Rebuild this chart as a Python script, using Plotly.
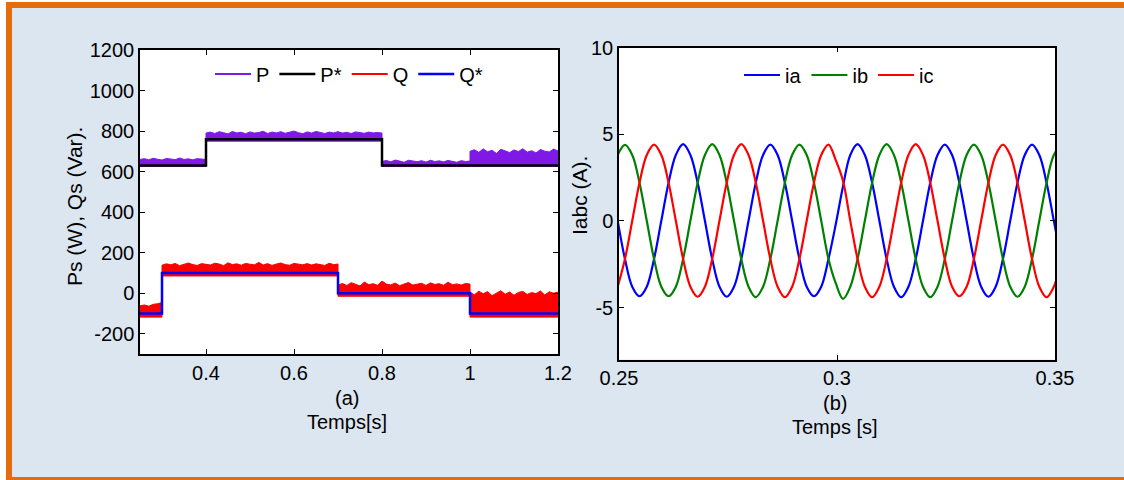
import numpy as np
import plotly.graph_objects as go

W, H = 1124, 480
FONT = "Liberation Sans, Arial, sans-serif"

# ---------------- (a) Ps / Qs ----------------
P_seg_bounds = [0.25, 0.40, 0.80, 1.00, 1.20]
P_upper_segments = [
    [660, 664, 658, 666, 661, 657, 665, 662, 659, 667, 660, 663, 658, 664, 661, 660],
    [790, 795, 788, 797, 792, 786, 798, 791, 794, 787, 796, 790, 793, 799, 788, 795, 791, 797, 789, 794,
     800, 792, 787, 796, 790, 798, 793, 788, 795, 791, 797, 790, 794, 788, 796, 792, 789, 795, 791, 793, 790],
    [650, 655, 648, 657, 652, 646, 656, 651, 649, 654, 647, 656, 650, 653, 648, 655, 651, 646, 654, 650, 652],
    [700, 708, 695, 712, 698, 705, 690, 710, 700, 694, 707, 699, 713, 696, 703, 692, 709, 701, 697, 711, 702],
]
P_low_t = [0.25, 0.40, 0.80, 1.00, 1.20]
P_low = [625, 750, 625, 626, 626]
Pref_t = [0.25, 0.40, 0.80, 1.20]
Pref = [630, 760, 630, 630]

Q_seg_bounds = [0.25, 0.30, 0.70, 1.00, 1.20]
Q_upper_segments = [
    [-62, -58, -64, -55, -52, -46],
    [138, 145, 140, 147, 136, 143, 149, 141, 137, 146, 142, 139, 148, 144, 136, 150, 141, 145, 138, 147,
     143, 140, 152, 139, 146, 137, 144, 149, 141, 138, 147, 143, 140, 146, 139, 145, 142, 137, 148, 141, 144],
    [40, 48, 38, 52, 44, 36, 55, 42, 47, 39, 60, 45, 41, 50, 37, 46, 53, 40, 44, 49,
     38, 51, 43, 47, 39, 54, 42, 46, 40, 48, 45],
    [5, -8, 10, -3, 8, -12, 2, 12, -5, 6, -10, 4, 9, -6, 3, -2, 11, -9, 7, 0, 5],
]
Q_low_t = [0.25, 0.30, 0.70, 1.00, 1.20]
Q_low = [-118, 85, -15, -118, -118]
Qref_t = [0.25, 0.30, 0.70, 1.00, 1.20]
Qref = [-100, 100, 0, -100, -100]

A_xticks = [0.4, 0.6, 0.8, 1.0, 1.2]
A_xticktext = ["0.4", "0.6", "0.8", "1", "1.2"]
A_yticks = [-200, 0, 200, 400, 600, 800, 1000, 1200]
A_yticktext = ["-200", "0", "200", "400", "600", "800", "1000", "1200"]

# ---------------- (b) Iabc ----------------
I_t_start, I_t_end = 0.2497, 0.3514
ia = [0.0, -2.2, -3.8, -4.35, -3.8, -2.2, 0.0, 2.2, 3.8, 4.42, 3.8, 2.2,
      0.0, -2.2, -3.8, -4.38, -3.8, -2.2, 0.0, 2.2, 3.8, 4.4, 3.8, 2.2,
      0.0, -2.2, -3.8, -4.35, -3.8, -2.2, -0.2, 2.0, 3.8, 4.42, 3.8, 2.2,
      0.0, -2.2, -3.8, -4.4, -3.8, -2.2, 0.0, 2.2, 3.8, 4.4, 3.8, 2.2,
      0.0, -2.2, -3.8, -4.38, -3.8, -2.2, 0.0, 2.2, 3.8, 4.4, 3.8, 2.2,
      0.0, -2.2]
ib = [3.8, 4.38, 3.8, 2.2, 0.0, -2.2, -3.8, -4.35, -3.8, -2.2, 0.0, 2.2,
      3.8, 4.42, 3.8, 2.2, 0.0, -2.2, -3.8, -4.4, -3.8, -2.2, 0.0, 2.2,
      3.8, 4.4, 3.8, 2.2, 0.0, -2.2, -3.6, -4.5, -3.8, -2.2, 0.0, 2.2,
      3.8, 4.42, 3.8, 2.2, 0.0, -2.2, -3.8, -4.4, -3.8, -2.2, 0.0, 2.2,
      3.8, 4.4, 3.8, 2.2, 0.0, -2.2, -3.8, -4.38, -3.8, -2.2, 0.0, 2.2,
      3.8, 4.4]
ic = [-3.8, -2.2, 0.0, 2.2, 3.8, 4.4, 3.8, 2.2, 0.0, -2.2, -3.8, -4.38,
      -3.8, -2.2, 0.0, 2.2, 3.8, 4.42, 3.8, 2.2, 0.0, -2.2, -3.8, -4.4,
      -3.8, -2.2, 0.0, 2.2, 3.8, 4.4, 3.5, 2.3, 0.0, -2.2, -3.8, -4.4,
      -3.8, -2.2, 0.0, 2.2, 3.8, 4.42, 3.8, 2.2, 0.0, -2.2, -3.8, -4.35,
      -3.8, -2.2, 0.0, 2.2, 3.8, 4.4, 3.8, 2.2, 0.0, -2.2, -3.8, -4.4,
      -3.8, -2.2]
B_xticks = [0.25, 0.30, 0.35]
B_xticktext = ["0.25", "0.3", "0.35"]
B_yticks = [-5, 0, 5, 10]
B_yticktext = ["-5", "0", "5", "10"]

C_P, C_PREF, C_Q, C_QREF = "#7F19E6", "#000000", "#FF0000", "#0000FF"
C_IA, C_IB, C_IC = "#0000FF", "#008000", "#FF0000"


def seg_x(bounds, segments):
    xs = []
    for i, seg in enumerate(segments):
        xs.extend(np.linspace(bounds[i], bounds[i + 1], len(seg)).tolist())
    return xs


def seg_y(segments):
    ys = []
    for seg in segments:
        ys.extend(seg)
    return ys


fig = go.Figure()

# P band
fig.add_trace(go.Scatter(x=P_low_t, y=P_low, mode="lines", line=dict(color=C_P, width=1, shape="hv"),
                         showlegend=False, hoverinfo="skip", xaxis="x", yaxis="y"))
fig.add_trace(go.Scatter(x=seg_x(P_seg_bounds, P_upper_segments), y=seg_y(P_upper_segments), mode="lines",
                         line=dict(color=C_P, width=1), fill="tonexty", fillcolor=C_P,
                         showlegend=False, xaxis="x", yaxis="y"))
fig.add_trace(go.Scatter(x=Pref_t, y=Pref, mode="lines", line=dict(color=C_PREF, width=2.5, shape="hv"),
                         name="P*", legendrank=2, legend="legend", xaxis="x", yaxis="y"))
# Q band
fig.add_trace(go.Scatter(x=Q_low_t, y=Q_low, mode="lines", line=dict(color=C_Q, width=1, shape="hv"),
                         showlegend=False, hoverinfo="skip", xaxis="x", yaxis="y"))
fig.add_trace(go.Scatter(x=seg_x(Q_seg_bounds, Q_upper_segments), y=seg_y(Q_upper_segments), mode="lines",
                         line=dict(color=C_Q, width=1), fill="tonexty", fillcolor=C_Q,
                         showlegend=False, xaxis="x", yaxis="y"))
fig.add_trace(go.Scatter(x=Qref_t, y=Qref, mode="lines", line=dict(color=C_QREF, width=2.5, shape="hv"),
                         name="Q*", legendrank=4, legend="legend", xaxis="x", yaxis="y"))
# legend entries for the noisy signals
fig.add_trace(go.Scatter(x=[None], y=[None], mode="lines", line=dict(color=C_P, width=2),
                         name="P", legendrank=1, legend="legend", xaxis="x", yaxis="y"))
fig.add_trace(go.Scatter(x=[None], y=[None], mode="lines", line=dict(color=C_Q, width=2),
                         name="Q", legendrank=3, legend="legend", xaxis="x", yaxis="y"))

# currents
I_t = np.linspace(I_t_start, I_t_end, len(ia)).tolist()
for name, vals, col, rk in [("ia", ia, C_IA, 5), ("ib", ib, C_IB, 6), ("ic", ic, C_IC, 7)]:
    fig.add_trace(go.Scatter(x=I_t, y=vals, mode="lines", name=name, legendrank=rk,
                             line=dict(color=col, width=2.2, shape="spline", smoothing=1),
                             legend="legend2", xaxis="x2", yaxis="y2"))

axis_common = dict(showline=True, linecolor="#000000", linewidth=1.5, mirror="ticks",
                   ticks="inside", ticklen=5, tickwidth=1, tickcolor="#000000",
                   showgrid=False, zeroline=False,
                   tickfont=dict(family=FONT, size=20, color="#000000"))

fig.update_layout(
    autosize=True, margin=dict(l=0, r=0, t=0, b=0, autoexpand=False),
    paper_bgcolor="#FFFFFF", plot_bgcolor="#FFFFFF",
    font=dict(family=FONT, color="#000000"),
    xaxis=dict(domain=[140 / W, 558 / W], range=[0.25, 1.2], anchor="y",
               tickvals=A_xticks, ticktext=A_xticktext, **axis_common),
    yaxis=dict(domain=[1 - 354 / H, 1 - 50 / H], range=[-300, 1200], anchor="x",
               tickvals=A_yticks, ticktext=A_yticktext, **axis_common),
    xaxis2=dict(domain=[619 / W, 1055 / W], range=[0.25, 0.35], anchor="y2",
                tickvals=B_xticks, ticktext=B_xticktext, **axis_common),
    yaxis2=dict(domain=[1 - 359.5 / H, 1 - 47.5 / H], range=[-8, 10], anchor="x2",
                tickvals=B_yticks, ticktext=B_yticktext, **axis_common),
    legend=dict(orientation="h", x=349 / W, xanchor="center", y=1 - 74 / H, yanchor="middle",
                bgcolor="rgba(0,0,0,0)", font=dict(family=FONT, size=20, color="#000000"),
                traceorder="normal", itemwidth=36),
    legend2=dict(orientation="h", x=839 / W, xanchor="center", y=1 - 75 / H, yanchor="middle",
                 bgcolor="rgba(0,0,0,0)", font=dict(family=FONT, size=20, color="#000000"),
                 traceorder="normal", itemwidth=36),
    showlegend=True,
)

# background frame (orange border + light blue panel) and white plot areas
shapes = [
    dict(type="rect", xref="paper", yref="paper", x0=6 / W, x1=1, y0=0, y1=1 - 2 / H,
         fillcolor="#E46C0A", line=dict(width=0), layer="below"),
    dict(type="rect", xref="paper", yref="paper", x0=12 / W, x1=1, y0=3 / H, y1=1 - 8 / H,
         fillcolor="#DCE6F1", line=dict(width=0), layer="below"),
    dict(type="rect", xref="paper", yref="paper", x0=140 / W, x1=558 / W, y0=1 - 354 / H, y1=1 - 50 / H,
         fillcolor="#FFFFFF", line=dict(width=0), layer="below"),
    dict(type="rect", xref="paper", yref="paper", x0=619 / W, x1=1055 / W, y0=1 - 359.5 / H, y1=1 - 47.5 / H,
         fillcolor="#FFFFFF", line=dict(width=0), layer="below"),
]
fig.update_layout(shapes=shapes)


def ann(text, xp, yp, angle=0, size=20):
    return dict(text=text, x=xp / W, y=1 - yp / H, xref="paper", yref="paper",
                xanchor="center", yanchor="middle", showarrow=False, textangle=angle,
                font=dict(family=FONT, size=size, color="#000000"))


fig.update_layout(annotations=[
    ann("(a)", 347, 398),
    ann("Temps[s]", 347, 422),
    ann("Ps (W), Qs (Var).", 74, 207, angle=-90, size=21),
    ann("(b)", 835, 403),
    ann("Temps [s]", 835, 427),
    ann("Iabc (A).", 579, 196, angle=-90, size=21),
])

fig.write_html("out.html",
               default_width="1124px; position:absolute; left:0px; top:0px",
               default_height="480px",
               post_script="document.documentElement.style.margin='0';document.body.style.margin='0';"
                           "document.body.style.padding='0';document.body.style.overflow='hidden';")
